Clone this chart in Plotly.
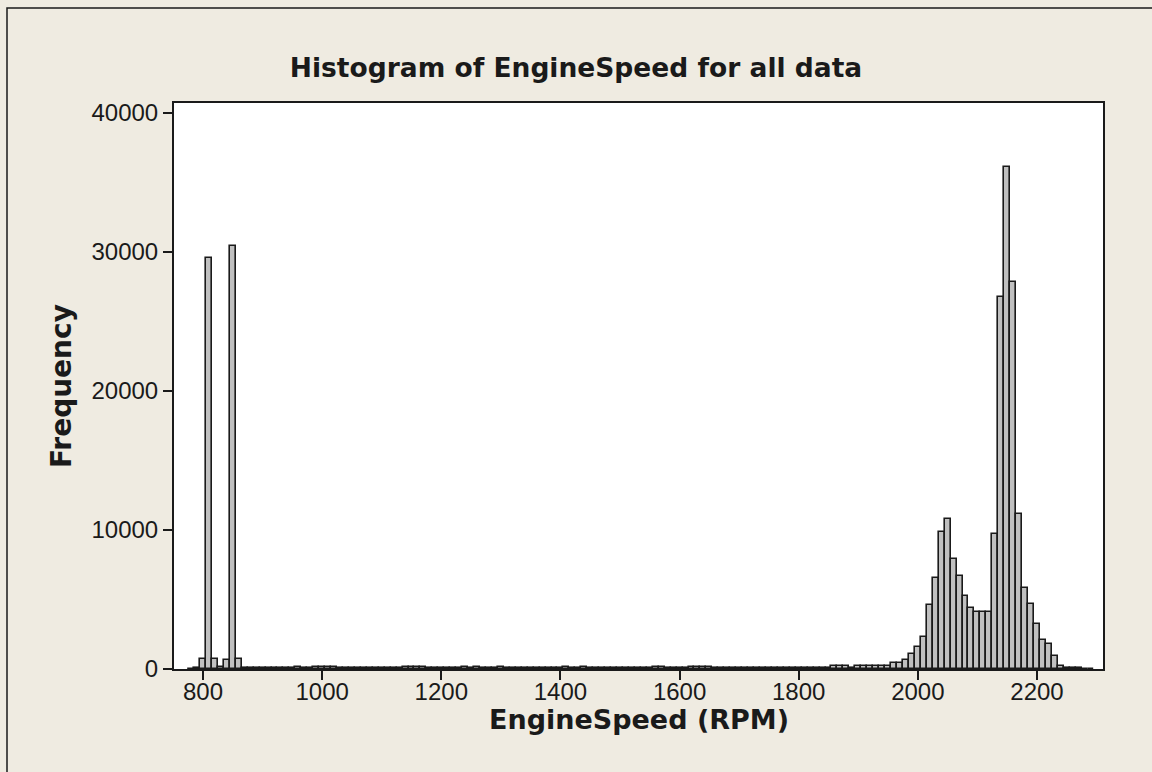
import plotly.graph_objects as go

# Histogram bins: 10 RPM wide, centred on multiples of 10 starting at 780 RPM
first_bin = 780
bin_width = 10

# Frequency per bin (780, 790, ... 2290 RPM)
counts = [
    0, 100, 720, 29600, 720, 150, 620, 30400, 720, 40,          # 780-870
    40, 40, 40, 40, 40, 40, 40, 40, 120, 40,                    # 880-970
    40, 120, 120, 120, 120, 40, 40, 40, 40, 40,                 # 980-1070
    40, 40, 40, 40, 40, 40, 120, 120, 120, 120,                 # 1080-1170
    40, 40, 40, 40, 40, 40, 120, 40, 120, 40,                   # 1180-1270
    40, 40, 120, 40, 40, 40, 80, 80, 80, 80,                    # 1280-1370
    80, 80, 80, 120, 40, 40, 120, 40, 40, 40,                   # 1380-1470
    40, 40, 40, 40, 40, 40, 40, 40, 120, 120,                   # 1480-1570
    40, 40, 40, 40, 120, 120, 120, 120, 40, 80,                 # 1580-1670
    80, 80, 80, 80, 80, 80, 80, 80, 80, 80,                     # 1680-1770
    80, 80, 80, 100, 100, 100, 100, 100, 240, 240,              # 1780-1870
    240, 100, 240, 240, 240, 240, 240, 240, 430, 430,           # 1880-1970
    670, 1055, 1610, 2330, 4600, 6570, 9880, 10820, 7940, 6670, # 1980-2070
    5280, 4360, 4130, 4130, 4130, 9690, 26760, 36140, 27870, 11150,  # 2080-2170
    5850, 4700, 3210, 2060, 1820, 910, 240, 60, 40, 40,         # 2180-2270
    30, 0,                                                      # 2280-2290
]

bin_centers = [first_bin + i * bin_width for i in range(len(counts))]

x_ticks = [800, 1000, 1200, 1400, 1600, 1800, 2000, 2200]
y_ticks = [0, 10000, 20000, 30000, 40000]

title_text = "Histogram of EngineSpeed for all data"
x_title = "EngineSpeed (RPM)"
y_title = "Frequency"

bold_font = "DejaVu Sans"
tick_font = "Liberation Sans"
ink = "#1a1a1a"
panel_bg = "#EFEBE1"

fig = go.Figure(
    go.Bar(
        x=bin_centers,
        y=counts,
        width=bin_width,
        marker=dict(color="#C0C0C0", line=dict(color=ink, width=1.6)),
        hoverinfo="x+y",
    )
)

fig.update_layout(
    width=1152,
    height=772,
    margin=dict(l=174, r=49, t=103, b=103),
    paper_bgcolor=panel_bg,
    plot_bgcolor="white",
    bargap=0,
    showlegend=False,
    title=dict(
        text=f"<b>{title_text}</b>",
        x=0.5,
        xref="container",
        xanchor="center",
        y=1 - 68 / 772,
        yref="container",
        yanchor="middle",
        font=dict(family=bold_font, size=26.5, color=ink),
    ),
)

axis_common = dict(
    showgrid=False,
    zeroline=False,
    showline=True,
    linecolor=ink,
    linewidth=2,
    mirror=True,
    ticks="outside",
    ticklen=9,
    tickwidth=1.5,
    tickcolor=ink,
    tickfont=dict(family=tick_font, size=24, color=ink),
)

fig.update_xaxes(
    range=[751.3, 2310.8],
    tickvals=x_ticks,
    ticktext=[str(v) for v in x_ticks],
    ticklabelstandoff=-9,
    **axis_common,
)
fig.update_yaxes(
    range=[0, 40720],
    tickvals=y_ticks,
    ticktext=[str(v) for v in y_ticks],
    **axis_common,
)

# Axis titles
fig.add_annotation(
    text=f"<b>{x_title}</b>",
    xref="paper", yref="paper",
    x=0.5, y=(669 - 719) / 566,
    xanchor="center", yanchor="middle",
    showarrow=False,
    font=dict(family=bold_font, size=27, color=ink),
)
fig.add_annotation(
    text=f"<b>{y_title}</b>",
    xref="paper", yref="paper",
    x=(61 - 174) / 929, y=0.5,
    xanchor="center", yanchor="middle",
    textangle=-90,
    showarrow=False,
    font=dict(family=bold_font, size=28, color=ink),
)

# Frame of the graph window (left and top edges)
left_x = (7 - 174) / 929
top_y = 1 + (103 - 8) / 566
fig.add_shape(
    type="path",
    xref="paper", yref="paper",
    path=f"M {left_x} -0.3 L {left_x} {top_y} L 1.2 {top_y}",
    line=dict(color=ink, width=1.5),
    layer="above",
)

fig.write_html("out.html")
